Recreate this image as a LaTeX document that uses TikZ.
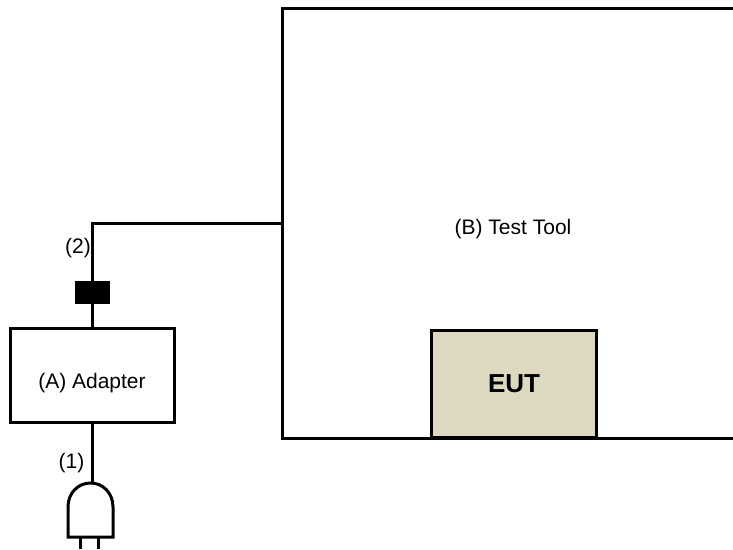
\documentclass[tikz,border=0pt]{standalone}
\usepackage{fontspec}
\setmainfont{Liberation Sans}
\definecolor{eutfill}{HTML}{DDD8C0}

\begin{document}
\begin{tikzpicture}[x=1pt,y=-1pt]
\useasboundingbox (0,0) rectangle (733,549);

\begin{scope}[every node/.style={draw=black,line width=3pt,inner sep=0pt,font=\fontsize{21}{24}\selectfont}]
    \node[minimum width=164pt,minimum height=94pt] (adapter) at (92,375) {\raisebox{-13pt}[0pt][0pt]{(A) Adapter}};
    \node[minimum width=164.5pt,minimum height=107pt,fill=eutfill,font=\fontsize{26}{30}\selectfont\bfseries] (eut) at (514,383.5) {EUT};
    \node[fill=black,minimum width=34pt,minimum height=22pt,line width=0pt] (ferrite) at (92,292) {};
\end{scope}

\begin{scope}[every node/.style={font=\fontsize{21}{24}\selectfont,inner sep=0pt}]
    \node (tool) at (513,229) {(B) Test Tool};
    \node (lab1) at (71.5,463) {(1)};
    \node (lab2) at (78,248) {(2)};
\end{scope}

\coordinate (corner) at (92.7,223);
\coordinate (toolleft) at (282,223);
\coordinate (plugtop) at (92,483);

% test tool outline, open on the right
\draw[line width=3pt] (733,8.3) -- (282,8.3) -- (282,438) -- (733,438);

\begin{scope}[line width=3pt]
    \draw (adapter.north -| corner) -- (ferrite.south -| corner);
    \draw (ferrite.north -| corner) -- (corner) -- (toolleft);
    \draw (adapter.south -| plugtop) -- (plugtop);
    % plug
    \draw (68,537) -- (68,507) .. controls (68,493) and (78,483) .. (90.5,483)
          .. controls (103,483) and (113,493) .. (113,507) -- (113,537) -- cycle;
    \draw (80,537) -- (80,549);
    \draw (98,537) -- (98,549);
\end{scope}
\end{tikzpicture}
\end{document}
